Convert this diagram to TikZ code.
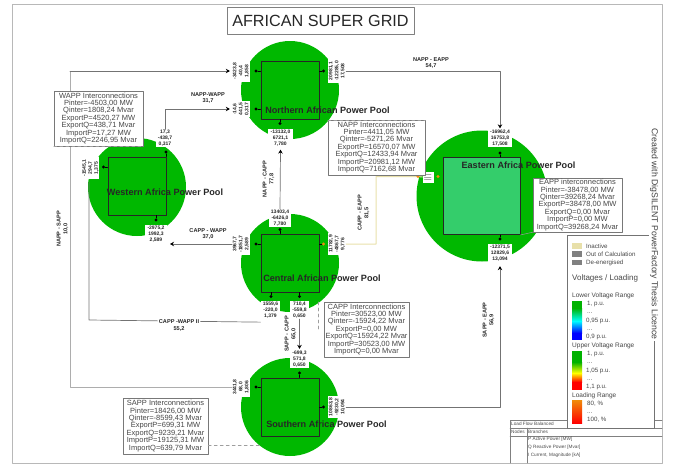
\documentclass[tikz,border=0pt]{standalone}
\usepackage{fontspec}
\setmainfont{Liberation Sans}
\usetikzlibrary{arrows.meta,calc,positioning}
\definecolor{poolgreen}{RGB}{0,184,0}
\definecolor{eastgreen}{RGB}{52,205,107}
\definecolor{creamline}{RGB}{232,224,170}
\definecolor{dotorange}{RGB}{240,140,10}
\definecolor{boxgray}{RGB}{120,120,120}
\newcommand{\lgdots}{...}
\tikzset{
  pool/.style={circle,fill=poolgreen,inner sep=0pt,minimum size=98pt},
  busbox/.style={draw=black!85,line width=.9pt,inner sep=0pt,minimum size=58pt},
  pooltitle/.style={font=\fontsize{9.1}{10}\selectfont\bfseries,text=black!85,inner sep=0pt},
  infobox/.style={draw=boxgray,fill=white,align=center,inner sep=0pt,text=black!72,font=\fontsize{7.5}{7.45}\selectfont},
  tag/.style={fill=white,align=center,inner xsep=2.2pt,inner ysep=.8pt,font=\fontsize{5}{6}\selectfont\bfseries,text=black!85},
  linelabel/.style={align=center,inner sep=0pt,font=\fontsize{5.6}{6.6}\selectfont\bfseries,text=black!85},
  conn/.style={draw=black!55,line width=.7pt},
  farconn/.style={draw=black!32,line width=.9pt},
  tip/.style={-{Stealth[black,length=4pt,width=4.5pt]}},
  busdot/.style={circle,fill=black,inner sep=0pt,minimum size=3.4pt},
  hotdot/.style={circle,fill=dotorange,inner sep=0pt,minimum size=3.2pt},
  stub/.style={draw=black,line width=.7pt},
  faint/.style={draw=black!38,dashed,line width=.6pt},
  swatch/.style={inner sep=0pt,minimum width=10pt,minimum height=5.5pt},
  legtext/.style={anchor=west,inner sep=0pt,text=black!72,font=\fontsize{6.2}{7}\selectfont},
  tabletext/.style={anchor=west,inner sep=0pt,text=black!70,font=\fontsize{4.7}{6}\selectfont}
}
\begin{document}
\begin{tikzpicture}[x=1pt,y=-1pt,>=Stealth,line cap=round,line join=round]
\useasboundingbox (0,0) rectangle (675,464);
\draw[black!28,line width=.8pt] (12.5,4.5) rectangle (662,463);
\node[draw=black!50,minimum width=187pt,minimum height=27pt,inner sep=0pt,font=\fontsize{16.2}{18}\selectfont,text=black!85] (title) at (320.5,20.5) {AFRICAN SUPER GRID};
% pools
\node[pool] (napp) at (290,90) {};
\node[pool] (wapp) at (137,187) {};
\node[pool] (capp) at (290,263) {};
\node[pool] (sapp) at (290,407) {};
\node[pool,minimum size=131pt] (eapp) at (482,196) {};
\node[busbox] (nbus) at (290,90) {};
\node[busbox] (wbus) at (137,186) {};
\node[busbox] (cbus) at (290,263) {};
\node[busbox] (sbus) at (290,407) {};
\node[busbox,fill=eastgreen,minimum size=77pt] (ebus) at (481.5,196) {};
% result tags
\node[tag,rotate=90] (tnw) at (241,71) {-3423,8\\-40,4\\1,858};
\node[tag,rotate=90] (tnx) at (241,109) {-14,6\\441,5\\0,317};
\node[tag] (tns) at (280.5,138) {-13132,0\\6721,1\\7,780};
\node[tag,rotate=90] (tne) at (337,71) {20981,1\\-12285,0\\17,508};
\node[tag] (twn) at (165,138.5) {17,3\\-438,7\\0,317};
\node[tag,rotate=90] (twl) at (90.5,168) {-1545,1\\294,7\\1,375};
\node[tag] (tws) at (156,234) {-2975,2\\1992,3\\2,589};
\node[tag] (tcn) at (280,218) {13403,4\\-6426,0\\7,780};
\node[tag,rotate=90] (tcw) at (241,244) {3967,7\\-1851,7\\2,589};
\node[tag,rotate=90] (tce) at (337,244) {11782,9\\-4867,7\\9,776};
\node[tag] (tcs) at (270.5,310) {1559,6\\-220,0\\1,379};
\node[tag] (tcx) at (299.5,310) {710,4\\-559,8\\0,650};
\node[tag] (tsn) at (299.5,359) {-699,3\\571,8\\0,650};
\node[tag,rotate=90] (tsw) at (241,387) {3441,8\\68,0\\1,806};
\node[tag,rotate=90] (tse) at (337,407) {10863,8\\-9230,2\\10,094};
\node[tag] (ten) at (500,138.5) {-16962,4\\16753,8\\17,508};
\node[tag] (tes) at (500,253) {-12371,5\\12829,6\\13,094};
\node[fill=white,inner sep=0pt,minimum width=11pt,minimum height=11pt] (tex) at (428,177) {};
\foreach \ypos in {174.5,177,179.5}{\draw[black!35,line width=1pt,dash pattern=on 1pt off .8pt] (424.5,\ypos) -- (431.5,\ypos);}
% dots on the bus boxes
\node[busdot] (dnw) at (256,71) {};
\node[busdot] (dnx) at (256,109) {};
\node[busdot] (dns) at (280,123.5) {};
\node[busdot] (dne) at (323.5,71) {};
\node[busdot] (dwn) at (166,152) {};
\node[busdot] (dwl) at (103.5,167) {};
\node[busdot] (dws) at (156,220) {};
\node[busdot] (dcn) at (280,229.5) {};
\node[busdot] (dcw) at (256,244) {};
\node[hotdot] (dce) at (323.5,244) {};
\node[busdot] (dcs) at (271,296.5) {};
\node[busdot] (dcx) at (299.5,296.5) {};
\node[busdot] (dsn) at (299.5,373) {};
\node[busdot] (dsw) at (256,387) {};
\node[busdot] (dse) at (323.5,407) {};
\node[busdot] (den) at (500,153) {};
\node[busdot] (des) at (500,239) {};
\node[hotdot] (dex) at (438,176.5) {};
\foreach \name/\side in {dnw/nbus.west,dnx/nbus.west,dne/nbus.east,dwl/wbus.west,dcw/cbus.west,dce/cbus.east,dsw/sbus.west,dse/sbus.east}{\draw[stub] (\name) -- (\name -| \side);}
\foreach \name/\side in {dns/nbus.south,dwn/wbus.north,dws/wbus.south,dcn/cbus.north,dcs/cbus.south,dcx/cbus.south,dsn/sbus.north,den/ebus.north,des/ebus.south}{\draw[stub] (\name) -- (\name |- \side);}
% connectors
\coordinate (bendns) at (70,229);
\coordinate (bendnw) at (165,109);
\coordinate (bendcw) at (89,320);
\coordinate (endcw) at (170,244);
\coordinate (endcwb) at (89,182);
\coordinate (bendce) at (376,244);
\coordinate (hotw) at (418,176.5);
\draw[farconn] (tsw.north) -| (bendns);
\draw[farconn] (bendns) |- ($(tnw.north)+(-3,0)$);
\draw[conn,tip] (bendns |- tnw.north) -- ($(tnw.north)+(-2,0)$);
\draw[conn,tip] (twn.north) -- (bendnw) -- ($(tnx.north)+(-2,0)$);
\draw[conn,tip] (tcn.north) -- ($(tns.south)+(0,2.5)$);
\draw[conn,tip] (tne.south) -| ($(ten.north)+(0,-1)$);
\draw[conn,tip] (tcw.north) -- (endcw);
\draw[conn] (tcs.south west) ++(0,3) -- (bendcw) -- (endcwb);
\draw[conn,tip] (tcx.south) -- ($(tsn.north)+(0,-1)$);
\draw[conn,tip] (tse.south) -| ($(tes.south)+(0,4)$);
\draw[draw=creamline,line width=1pt] (tce.south) -- (bendce) -- (bendce |- hotw) -- (hotw) -- (tex.west);
\node[hotdot] (dhot) at (hotw) {};
% line labels
\node[linelabel] (lnw) at (208,98) {NAPP-WAPP\\31,7};
\node[linelabel,rotate=90] (lnc) at (268.5,179) {NAPP - CAPP\\77,8};
\node[linelabel] (lne) at (431,63) {NAPP - EAPP\\54,7};
\node[linelabel,rotate=90] (lce) at (363.5,213) {CAPP - EAPP\\81,5};
\node[linelabel] (lcw) at (208,234) {CAPP - WAPP\\37,0};
\node[linelabel,fill=white,inner sep=.5pt] (lcx) at (179,325.5) {CAPP -WAPP II\\55,2};
\node[linelabel,rotate=90] (lns) at (62.5,229) {NAPP - SAPP\\10,0};
\node[linelabel,rotate=90] (lsc) at (290.5,334) {SAPP - CAPP\\65,0};
\node[linelabel,rotate=90] (lse) at (488.5,320) {SAPP - EAPP\\56,9};
% interconnection boxes
\node[infobox,minimum width=89pt,minimum height=55pt] (wbox) at (98.5,118.5) {WAPP Interconnections\\Pinter=-4503,00 MW\\Qinter=1808,24 Mvar\\ExportP=4520,27 MW\\ExportQ=438,71 Mvar\\ImportP=17,27 MW\\ImportQ=2246,95 Mvar};
\node[infobox,minimum width=97pt,minimum height=55pt] (nbox) at (376.5,147.5) {NAPP Interconnections\\Pinter=4411,05 MW\\Qinter=-5271,26 Mvar\\ExportP=16570,07 MW\\ExportQ=12433,94 Mvar\\ImportP=20981,12 MW\\ImportQ=7162,68 Mvar};
\node[infobox,minimum width=89pt,minimum height=54pt] (ebox) at (577.5,205) {EAPP interconnections\\Pinter=-38478,00 MW\\Qinter=39268,24 Mvar\\ExportP=38478,00 MW\\ExportQ=0,00 Mvar\\ImportP=0,00 MW\\ImportQ=39268,24 Mvar};
\node[infobox,minimum width=85pt,minimum height=55pt] (cbox) at (366.5,329.5) {CAPP Interconnections\\Pinter=30523,00 MW\\Qinter=-15924,22 Mvar\\ExportP=0,00 MW\\ExportQ=15924,22 Mvar\\ImportP=30523,00 MW\\ImportQ=0,00 Mvar};
\node[infobox,minimum width=85pt,minimum height=56pt] (sbox) at (165.5,426) {SAPP Interconnections\\Pinter=18426,00 MW\\Qinter=-8599,43 Mvar\\ExportP=699,31 MW\\ExportQ=9239,21 Mvar\\ImportP=19125,31 MW\\ImportQ=639,79 Mvar};
\coordinate (dashc) at (318,302);
\coordinate (dashcb) at (318,330);
\coordinate (dashs) at (260,445);
\draw[faint] (wbox.south west) -- (wbox.south east);
\draw[faint] (nbox.north west) -- (nbox.north east);
\draw[faint] (dashc) -- (dashcb);
\draw[faint] (sbox.east |- dashs) -- (dashs);
\draw[black!40,line width=.5pt] (ebus.south east) -- (ebox.south west);
% pool names
\node[pooltitle] (nname) at (327.5,110) {Northern African Power Pool};
\node[pooltitle] (wname) at (165,192) {Western Africa Power Pool};
\node[pooltitle] (ename) at (518.5,165) {Eastern Africa Power Pool};
\node[pooltitle] (cname) at (322,278) {Central African Power Pool};
\node[pooltitle] (sname) at (326.5,424) {Southern Africa Power Pool};
% load flow table
\draw[black!50,line width=.5pt] (662,420) -- (510,420) -- (510,463);
\draw[black!50,line width=.5pt] (510,428) -- (662,428);
\draw[black!50,line width=.5pt] (510,436) -- (662,436);
\draw[black!50,line width=.5pt] (527,428) -- (527,463);
\node[tabletext] (tbflow) at (511,423.5) {Load Flow Balanced};
\node[tabletext] (tbnode) at (511,431.5) {Nodes};
\node[tabletext] (tbbran) at (528,431.5) {Branches};
\node[tabletext] (tbp) at (528,439.5) {P Active Power [MW]};
\node[tabletext] (tbq) at (528,447.5) {Q Reactive Power [Mvar]};
\node[tabletext] (tbi) at (528,455.5) {I Current, Magnitude [kA]};
% legend
\draw[draw=black!55,fill=white,line width=.8pt] (567,235) rectangle (654,428);
\node[swatch,fill=creamline] (swa) at (577,246) {};
\node[swatch,fill=black!50] (swb) at (577,254) {};
\node[swatch,fill=black!50] (swc) at (577,262.5) {};
\node[legtext] (lga) at (586,246) {Inactive};
\node[legtext] (lgb) at (586,254) {Out of Calculation};
\node[legtext] (lgc) at (586,262.5) {De-energised};
\node[legtext,font=\fontsize{8}{10}\selectfont] (lgv) at (572,278.5) {Voltages / Loading};
\node[legtext,font=\fontsize{6.5}{7}\selectfont] (lgl) at (572,295.5) {Lower Voltage Range};
\node[legtext,font=\fontsize{6.5}{7}\selectfont] (lgu) at (572,345.5) {Upper Voltage Range};
\node[legtext,font=\fontsize{6.5}{7}\selectfont] (lgr) at (572,395.5) {Loading Range};
\fill[green!70!black] (572,301) rectangle (582,308);
\shade[top color=green!70!black,bottom color=cyan] (572,308) rectangle (582,321);
\shade[top color=cyan,bottom color=blue] (572,321) rectangle (582,333);
\fill[blue] (572,333) rectangle (582,340);
\fill[green!70!black] (572,351) rectangle (582,362);
\shade[top color=green!70!black,bottom color=yellow] (572,362) rectangle (582,373);
\shade[top color=yellow,bottom color=red] (572,373) rectangle (582,382);
\fill[red] (572,382) rectangle (582,390);
\shade[top color=dotorange,bottom color=red] (572,400) rectangle (582,423);
\foreach \i/\xpos/\ypos/\txt in {a/587/304.5/{1, p.u.},b/587/313/\lgdots,c/586/320.5/{0,95 p.u.},d/587/330/\lgdots,e/586/337/{0,9 p.u.},f/587/354/{1, p.u.},g/587/363.5/\lgdots,h/586/370.5/{1,05 p.u.},i/587/380/\lgdots,j/586/387/{1,1 p.u.},k/587/404/{80, \%},l/587/413/\lgdots,m/587/420/{100, \%}}{
  \node[legtext] (lgv\i) at (\xpos,\ypos) {\txt};
}
\node[rotate=-90,fill=white,inner sep=1pt,text=black!75,font=\fontsize{8.7}{10}\selectfont] (lic) at (654,234) {Created with DigSILENT PowerFactory Thesis Licence};
\end{tikzpicture}
\end{document}
